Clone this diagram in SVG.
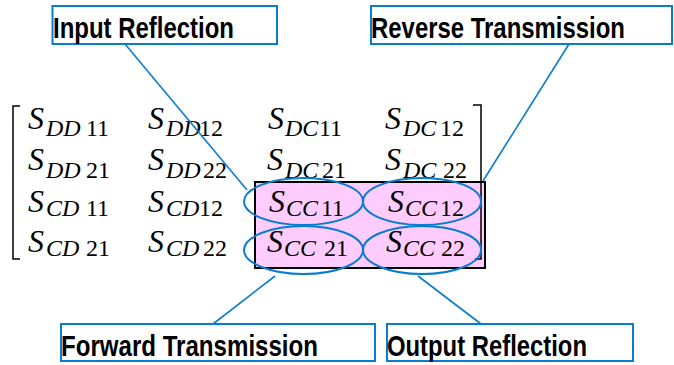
<svg xmlns="http://www.w3.org/2000/svg" width="674" height="365" viewBox="0 0 674 365">
<style>
.lbl{fill:none;stroke:#0a7ccf;stroke-width:2}
.lt{font-family:"Liberation Sans",Arial,sans-serif;font-weight:bold;font-size:30px;fill:#000}
.con{stroke:#0a7ccf;stroke-width:1.6;fill:none}
.ell{fill:none;stroke:#0a7ccf;stroke-width:2}
.m{font-family:"Liberation Serif","Times New Roman",serif;fill:#000}
.s{font-style:italic;font-size:32px}
.sub{font-style:italic;font-size:24px}
.n{font-style:normal;font-size:24px}
.br{fill:none;stroke:#000;stroke-width:1.5}
</style>
<rect width="674" height="365" fill="#fff"/>
<g id="matrix">
<rect x="255" y="182" width="230" height="86" fill="#ffccff" stroke="#000" stroke-width="2"/>
<path class="br" d="M20,106 H13 V259 H20"/>
<path class="br" d="M473,105 H481 V259 H475"/>
<g class="m">
<text class="s" x="28" y="129">S</text><text class="sub" x="46" y="136">DD</text><text class="n" x="86" y="136">11</text>
<text class="s" x="148" y="129">S</text><text class="sub" x="166" y="136">DD</text><text class="n" x="199" y="136">12</text>
<text class="s" x="268" y="129">S</text><text class="sub" x="285" y="136">DC</text><text class="n" x="319" y="136">11</text>
<text class="s" x="385" y="129">S</text><text class="sub" x="403" y="136">DC</text><text class="n" x="440" y="136">12</text>

<text class="s" x="28" y="170">S</text><text class="sub" x="46" y="178">DD</text><text class="n" x="86" y="178">21</text>
<text class="s" x="148" y="170">S</text><text class="sub" x="166" y="178">DD</text><text class="n" x="203" y="178">22</text>
<text class="s" x="267" y="170">S</text><text class="sub" x="285" y="178">DC</text><text class="n" x="322" y="178">21</text>
<text class="s" x="385" y="170">S</text><text class="sub" x="403" y="178">DC</text><text class="n" x="443" y="178">22</text>

<text class="s" x="28" y="212">S</text><text class="sub" x="46" y="216">CD</text><text class="n" x="86" y="216">11</text>
<text class="s" x="148" y="212">S</text><text class="sub" x="166" y="216">CD</text><text class="n" x="199" y="216">12</text>
<text class="s" x="269" y="212">S</text><text class="sub" x="286" y="216">CC</text><text class="n" x="321" y="216">11</text>
<text class="s" x="388" y="212">S</text><text class="sub" x="405" y="216">CC</text><text class="n" x="440" y="216">12</text>

<text class="s" x="28" y="252">S</text><text class="sub" x="46" y="256">CD</text><text class="n" x="86" y="256">21</text>
<text class="s" x="148" y="252">S</text><text class="sub" x="166" y="256">CD</text><text class="n" x="203" y="256">22</text>
<text class="s" x="267" y="252">S</text><text class="sub" x="284" y="256">CC</text><text class="n" x="324" y="256">21</text>
<text class="s" x="386" y="252">S</text><text class="sub" x="403" y="256">CC</text><text class="n" x="441" y="256">22</text>
</g>
</g>
<g id="ellipses">
<ellipse class="ell" cx="303.5" cy="201.5" rx="59.5" ry="23.5"/>
<ellipse class="ell" cx="422" cy="201.5" rx="59" ry="23.5"/>
<ellipse class="ell" cx="303.5" cy="250" rx="59.5" ry="24"/>
<ellipse class="ell" cx="422" cy="250" rx="59" ry="24"/>
</g>
<g id="connectors">
<line class="con" x1="125" y1="44" x2="247" y2="190"/>
<line class="con" x1="569" y1="44" x2="483" y2="181"/>
<line class="con" x1="275" y1="276" x2="213" y2="324"/>
<line class="con" x1="418" y1="276" x2="481" y2="324"/>
</g>
<g id="input-reflection">
<rect class="lbl" x="52.5" y="6" width="224.5" height="38"/>
<text class="lt" x="53" y="38" textLength="181" lengthAdjust="spacingAndGlyphs">Input Reflection</text>
</g>
<g id="reverse-transmission">
<rect class="lbl" x="371" y="6" width="301" height="38"/>
<text class="lt" x="371" y="38" textLength="254" lengthAdjust="spacingAndGlyphs">Reverse Transmission</text>
</g>
<g id="forward-transmission">
<rect class="lbl" x="61" y="324" width="314" height="37"/>
<text class="lt" x="61" y="356" textLength="257" lengthAdjust="spacingAndGlyphs">Forward Transmission</text>
</g>
<g id="output-reflection">
<rect class="lbl" x="387" y="324" width="246" height="37"/>
<text class="lt" x="387" y="356" textLength="200" lengthAdjust="spacingAndGlyphs">Output Reflection</text>
</g>
</svg>
